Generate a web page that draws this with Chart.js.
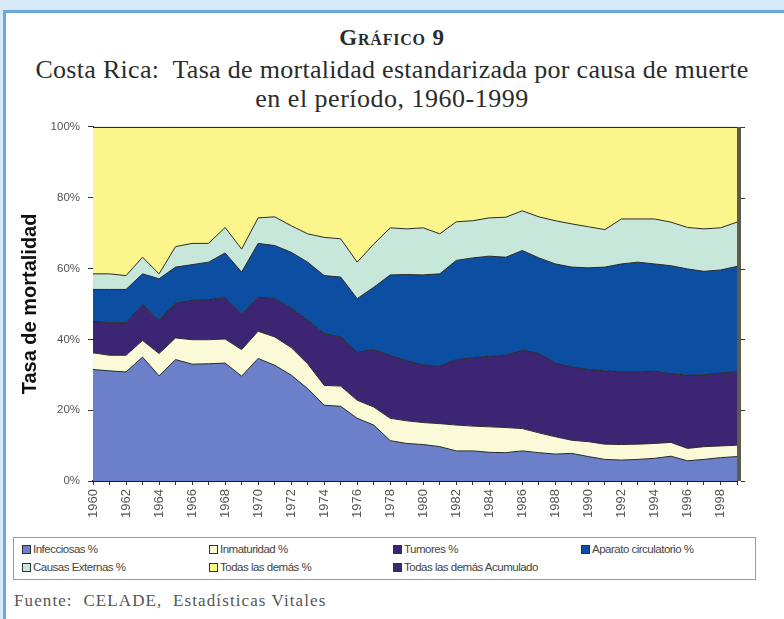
<!DOCTYPE html>
<html>
<head>
<meta charset="utf-8">
<script src="https://cdn.jsdelivr.net/npm/chart.js@4.4.1/dist/chart.umd.min.js"></script>
<style>
  html, body { margin: 0; padding: 0; }
  body { width: 784px; height: 619px; background: #d5e9f7; position: relative; overflow: hidden; font-family: "Liberation Serif", "Times New Roman", serif; }
  #frame { position: absolute; left: 3px; top: 10px; width: 790px; height: 620px; background: #ffffff; border-top: 3px solid #6fa8dc; border-left: 3px solid #6fa8dc; }
  .t1 { position: absolute; left: 0; width: 784px; text-align: center; color: #2b2b2b; white-space: nowrap; }
  #g9 { top: 25px; font-size: 23px; font-weight: bold; font-variant: small-caps; letter-spacing: 0.8px; }
  #sub1 { top: 55px; font-size: 26px; letter-spacing: 0.3px; }
  #sub2 { top: 84px; font-size: 26px; letter-spacing: 0.5px; }
  #cv { position: absolute; left: 0; top: 112px; }
  #legend { position: absolute; left: 13px; top: 537px; width: 743px; height: 43px; border: 1px solid #9a9a9a; box-sizing: border-box; font-family: "Liberation Sans", Arial, sans-serif; font-size: 11.5px; color: #444; }
  .li { position: absolute; white-space: nowrap; letter-spacing: -0.5px; }
  .sw { display: inline-block; width: 7px; height: 7px; border: 1px solid #333; vertical-align: -1px; margin-right: 2px; }
  #fuente { position: absolute; left: 14px; top: 591px; font-size: 17px; letter-spacing: 1.1px; color: #555; white-space: nowrap; }
</style>
</head>
<body>
<div id="frame"></div>
<div class="t1" id="g9">Gráfico 9</div>
<div class="t1" id="sub1">Costa Rica:&nbsp; Tasa de mortalidad estandarizada por causa de muerte</div>
<div class="t1" id="sub2">en el período, 1960-1999</div>
<canvas id="cv" width="784" height="418"></canvas>
<div id="legend"></div>
<div id="fuente">Fuente:&nbsp; CELADE,&nbsp; Estadísticas Vitales</div>
<script>
const years = [1960,1961,1962,1963,1964,1965,1966,1967,1968,1969,1970,1971,1972,1973,1974,1975,1976,1977,1978,1979,1980,1981,1982,1983,1984,1985,1986,1987,1988,1989,1990,1991,1992,1993,1994,1995,1996,1997,1998,1999];
const infecciosas = [31.5,31.1,30.8,35.0,29.7,34.3,33.0,33.1,33.3,29.6,34.6,32.7,29.9,26.1,21.4,21.1,17.7,15.8,11.4,10.6,10.3,9.7,8.5,8.5,8.1,8.0,8.5,8.0,7.6,7.8,6.9,6.1,5.9,6.1,6.4,7.0,5.7,6.1,6.6,6.9];
const inmaturidad = [4.7,4.4,4.7,4.7,6.3,6.1,6.9,6.8,6.8,7.5,7.7,8.0,7.8,7.0,5.6,5.7,5.1,5.1,6.3,6.4,6.2,6.5,7.3,7.0,7.2,7.1,6.3,5.6,4.9,3.7,4.2,4.3,4.4,4.3,4.2,3.9,3.5,3.6,3.3,3.2];
const tumores = [8.9,9.2,9.2,10.1,9.4,9.8,11.1,11.3,11.6,10.1,9.6,10.8,11.1,12.3,14.6,13.9,13.6,16.2,17.8,16.9,16.3,16.2,18.5,19.3,19.9,20.4,22.1,22.4,20.8,20.7,20.4,20.7,20.5,20.4,20.4,19.4,20.7,20.3,20.6,20.7];
const circulatorio = [9.0,9.4,9.4,8.7,11.7,10.2,10.1,10.6,12.7,11.8,15.2,15.0,15.8,16.4,16.4,16.9,15.1,17.6,22.7,24.4,25.4,26.1,28.0,28.2,28.3,27.7,28.2,27.0,28.0,28.2,28.7,29.3,30.5,31.0,30.3,30.5,30.0,29.2,29.1,29.8];
const externas = [4.4,4.4,3.9,4.7,1.4,5.8,6.0,5.3,7.2,6.5,7.2,8.1,7.5,8.0,10.8,10.8,10.3,12.2,13.3,12.9,13.3,11.3,10.9,10.5,10.8,11.3,11.2,11.6,12.2,12.2,11.6,10.6,12.7,12.2,12.7,12.3,11.7,12.0,11.9,12.5];
const demas = [41.5,41.5,42.0,36.8,41.5,33.8,32.9,32.9,28.4,34.5,25.7,25.4,27.9,30.2,31.2,31.6,38.2,33.1,28.5,28.8,28.5,30.2,26.8,26.5,25.7,25.5,23.7,25.4,26.5,27.4,28.2,29.0,26.0,26.0,26.0,26.9,28.4,28.8,28.5,26.9];
const seriesNames = ["Infecciosas %","Inmaturidad %","Tumores %","Aparato circulatorio %","Causas Externas %","Todas las demás  %","Todas las demás  Acumulado"];

const colors = ["#6b80c8","#fbfad8","#3c2674","#0c4fa2","#c8e7db","#fcf58b","#3a2b6c"];
const seriesData = [infecciosas, inmaturidad, tumores, circulatorio, externas, demas];

const datasets = seriesData.map((d, i) => ({
  label: seriesNames[i],
  data: d,
  backgroundColor: colors[i],
  borderColor: "#2a2a2a",
  borderWidth: 1,
  pointRadius: 0,
  tension: 0,
  fill: i === 0 ? "origin" : "-1"
}));

const framePlugin = {
  id: "frame",
  afterDatasetsDraw(chart) {
    const { ctx, chartArea: a } = chart;
    ctx.save();
    ctx.strokeStyle = "#1e1e1e";
    ctx.lineWidth = 1;
    ctx.beginPath();
    ctx.moveTo(a.left, a.top + 0.5);
    ctx.lineTo(a.right, a.top + 0.5);
    ctx.stroke();
    ctx.fillStyle = "#5d5c4c";
    ctx.fillRect(a.right, a.top, 4, a.bottom - a.top);
    const ys = chart.scales.y;
    ctx.strokeStyle = "#333";
    [0,20,40,60,80,100].forEach(v => {
      const y = Math.round(ys.getPixelForValue(v)) + 0.5;
      ctx.beginPath(); ctx.moveTo(a.right + 4, y); ctx.lineTo(a.right + 8, y); ctx.stroke();
    });
    ctx.restore();
  }
};

new Chart(document.getElementById("cv"), {
  type: "line",
  data: { labels: years.map(String), datasets },
  options: {
    responsive: false,
    animation: false,
    layout: { padding: { top: 4, right: 47, left: 0, bottom: 0 } },
    plugins: { legend: { display: false }, tooltip: { enabled: false } },
    scales: {
      x: {
        offset: false,
        grid: { display: true, drawOnChartArea: false, tickLength: 4, color: "#333" },
        border: { display: true, color: "#1e1e1e", width: 2 },
        ticks: {
          autoSkip: false, minRotation: 90, maxRotation: 90, padding: 4,
          color: "#555", font: { family: "Liberation Sans, Arial, sans-serif", size: 13 },
          callback: (v, i) => (i % 2 === 0 ? years[i] : "")
        },
        afterFit: (s) => { s.height = 49; }
      },
      y: {
        stacked: true, min: 0, max: 100,
        grid: { display: true, drawOnChartArea: false, tickLength: 5, color: "#333" },
        border: { display: true, color: "#1e1e1e", width: 1 },
        ticks: {
          stepSize: 20, padding: 8, color: "#555",
          font: { family: "Liberation Sans, Arial, sans-serif", size: 11.5 },
          callback: (v) => v + "%"
        },
        title: {
          display: true, text: "Tasa de mortalidad", color: "#111",
          font: { family: "Liberation Sans, Arial, sans-serif", size: 20, weight: "bold" },
          padding: { top: 18, bottom: 0 }
        },
        afterFit: (s) => { s.width = 93; }
      }
    }
  },
  plugins: [framePlugin]
});

const legendPos = [[8,5],[195,5],[379,5],[567,5],[8,23],[195,23],[379,23]];
const lg = document.getElementById("legend");
seriesNames.forEach((n, i) => {
  const el = document.createElement("div");
  el.className = "li";
  el.style.left = legendPos[i][0] + "px";
  el.style.top = legendPos[i][1] + "px";
  el.innerHTML = '<span class="sw" style="background:' + colors[i] + '"></span>' + n;
  lg.appendChild(el);
});
</script>
</body>
</html>
